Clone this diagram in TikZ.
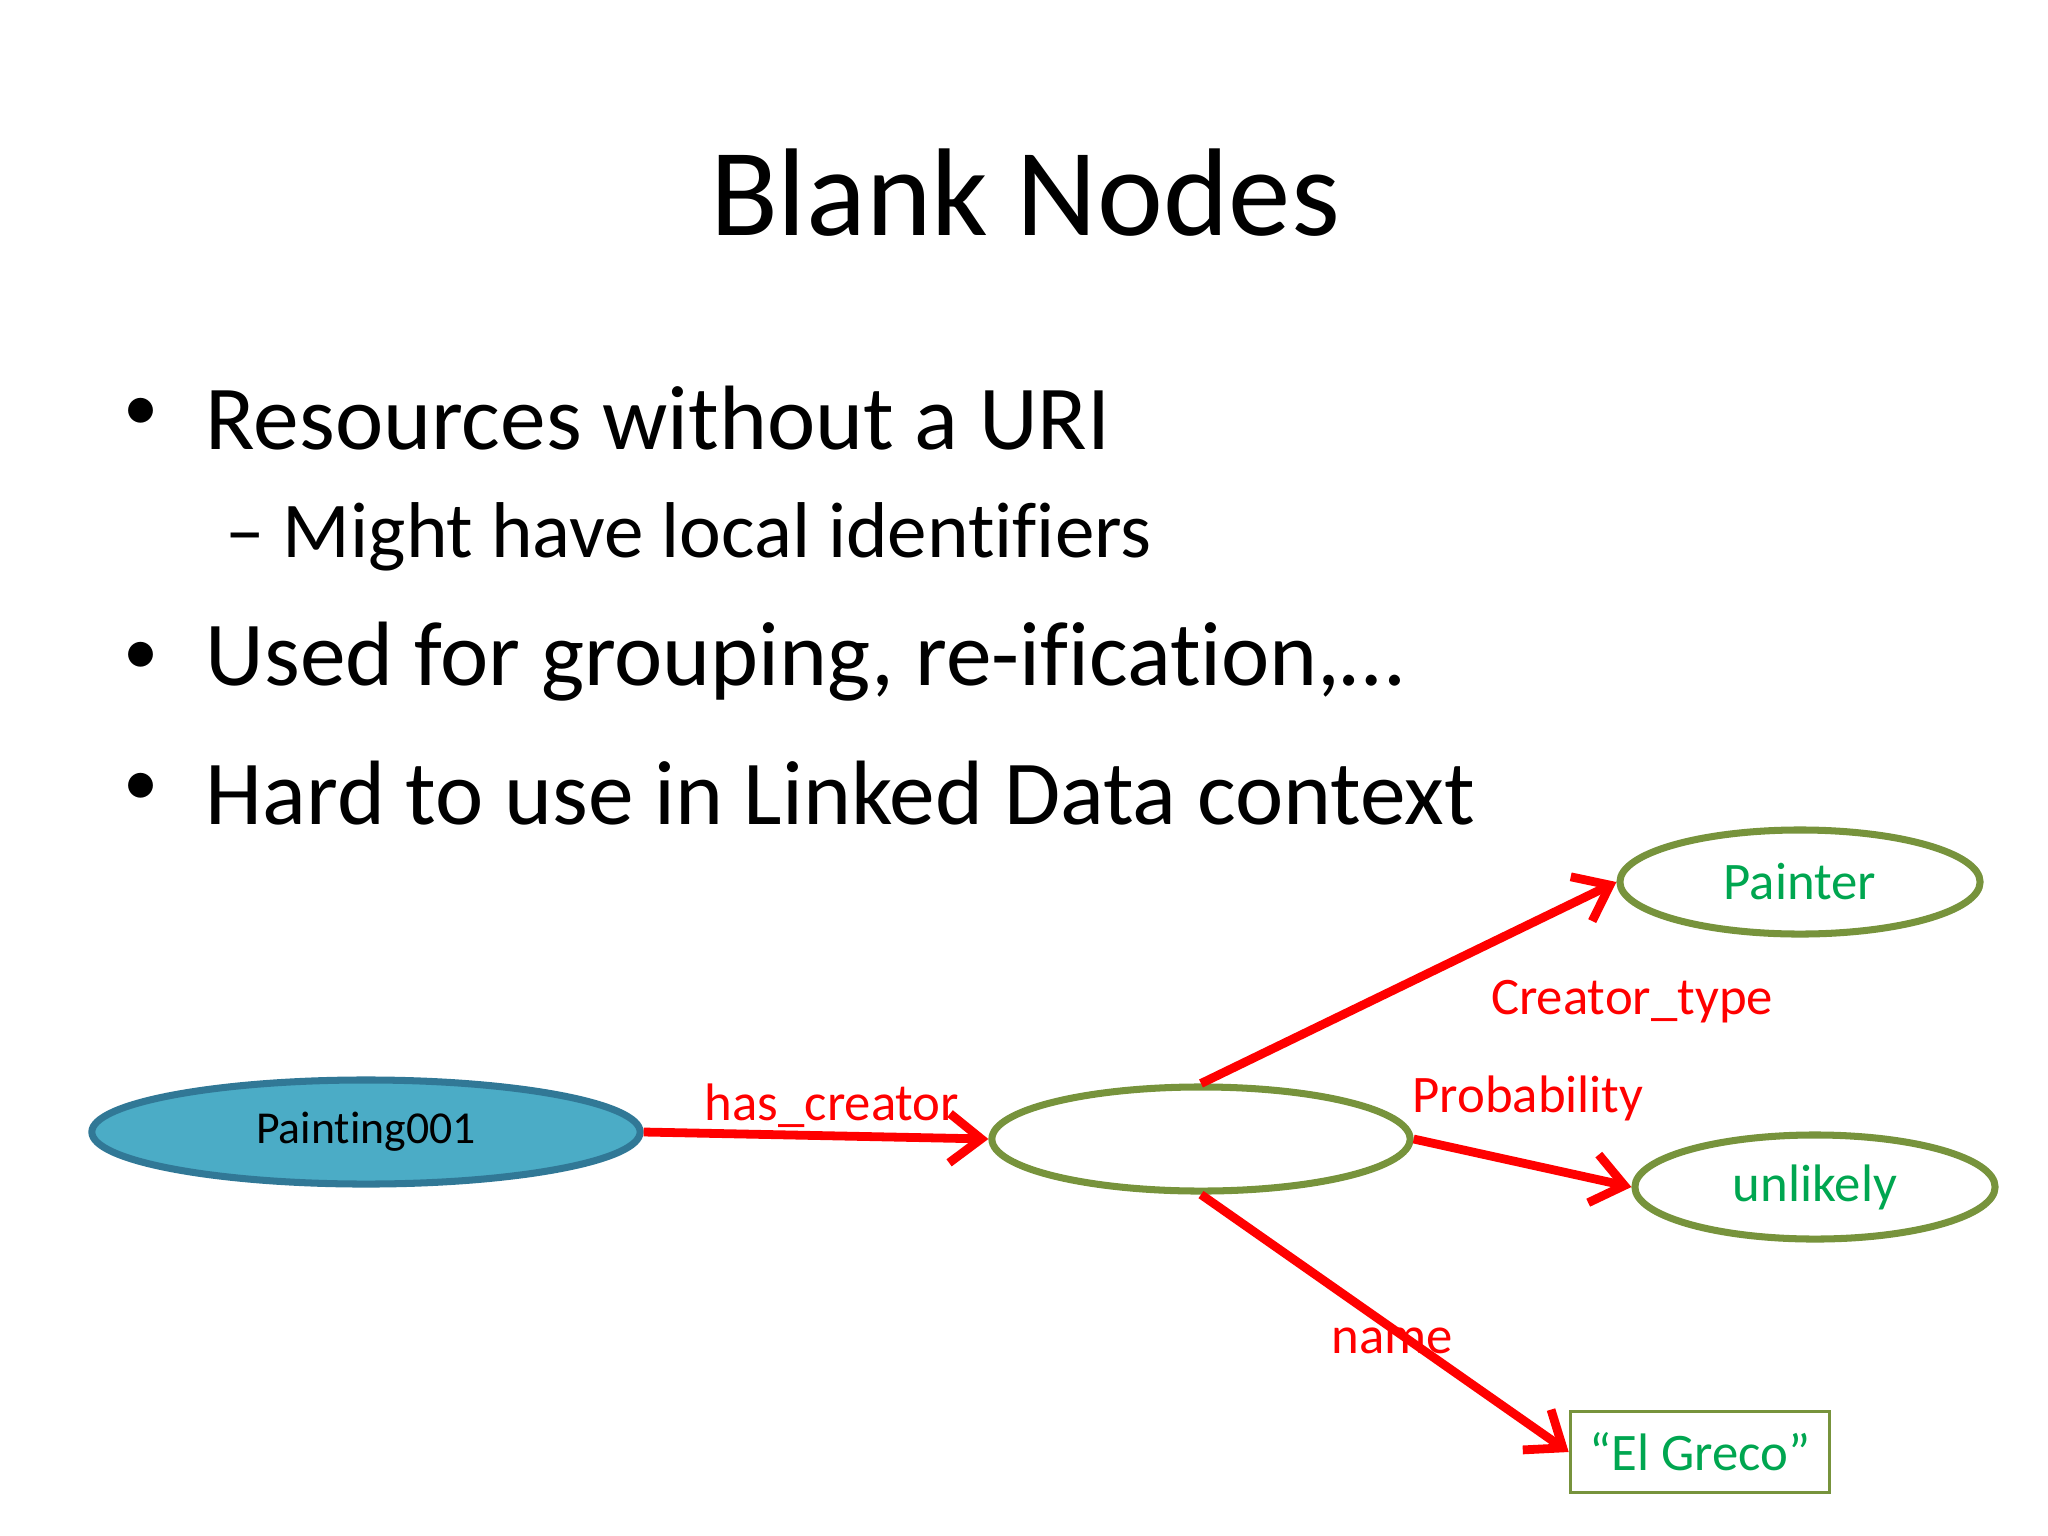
\documentclass[tikz,border=0pt]{standalone}
\usepackage{fontspec}
\setmainfont{Carlito}[Ligatures=NoCommon]
\usetikzlibrary{shapes.geometric,arrows.meta}
\definecolor{lred}{RGB}{255,0,0}
\definecolor{lgreen}{RGB}{0,166,80}
\definecolor{olive}{RGB}{119,147,60}
\definecolor{blu}{RGB}{75,172,198}
\definecolor{bluborder}{RGB}{49,120,150}
\begin{document}
\begin{tikzpicture}[x=0.01cm,y=-0.01cm,
  ell/.style={ellipse,draw=olive,line width=2pt,inner sep=0pt},
  lab/.style={text=lred,font=\fontsize{15}{18}\selectfont},
  big/.style={anchor=west,inner sep=0pt,font=\fontsize{26}{31}\selectfont},
  dot/.style={inner sep=0pt,font=\fontsize{20}{24}\selectfont},
  arr/.style={draw=lred,line width=2.5pt,-{Straight Barb[length=9pt,width=14pt,line width=2.5pt]}}]
\useasboundingbox (0,0) rectangle (2048,1536);
\node (title) at (1025,193) {\fontsize{35.5}{42}\selectfont Blank Nodes};
\node[big] (b1) at (205,418) {Resources without a URI};
\node[dot] (d1) at (141,414) {•};
\node[anchor=west,inner sep=0pt,font=\fontsize{22.5}{27}\selectfont] (s1) at (225,537) {– Might have local identifiers};
\node[big] (b2) at (205,662) {Used for grouping, re-ification,…};
\node[dot] (d2) at (141,658) {•};
\node[big] (b3) at (205,793) {Hard to use in Linked Data context};
\node[dot] (d3) at (141,789) {•};

\node[ellipse,fill=blu,draw=bluborder,line width=2pt,minimum width=5.48cm,minimum height=1.04cm,font=\fontsize{13}{16}\selectfont] (p) at (366,1132) {Painting001};
\node[ell,minimum width=4.18cm,minimum height=1.04cm] (bn) at (1201,1139) {};
\node[ell,minimum width=3.6cm,minimum height=1.04cm,text=lgreen,font=\fontsize{15}{18}\selectfont] (pa) at (1800,882) {Painter};
\node[ell,minimum width=3.6cm,minimum height=1.04cm,text=lgreen,font=\fontsize{15}{18}\selectfont] (un) at (1815,1187) {unlikely};
\node[draw=olive,line width=1pt,minimum width=2.59cm,minimum height=0.81cm,text=lgreen,font=\fontsize{15}{18}\selectfont] (eg) at (1700,1452) {“El Greco”};

\draw[arr] (p.east) -- (bn.west);
\draw[arr] (bn.north) -- (pa.west);
\draw[arr] (bn.east) -- (un.west);
\draw[arr] (bn.south) -- (eg.west);

\node[lab] (l1) at (832,1106) {has\_creator};
\node[lab] (l2) at (1632,1002) {Creator\_type};
\node[lab] (l3) at (1528,1098) {Probability};
\node[lab] (l4) at (1392,1341) {name};
\end{tikzpicture}
\end{document}
